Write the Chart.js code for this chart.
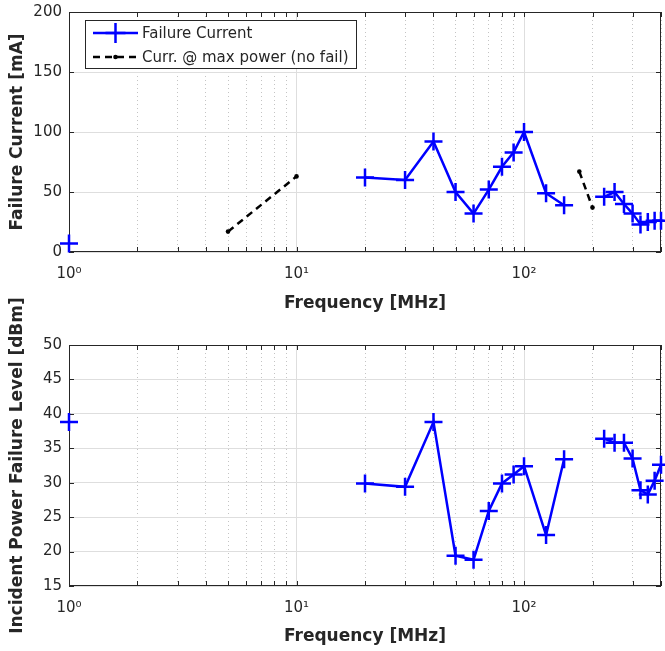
<!DOCTYPE html>
<html><head><meta charset="utf-8">
<script src="https://cdn.jsdelivr.net/npm/chart.js@4.4.0/dist/chart.umd.min.js"></script>
<style>
html,body{margin:0;padding:0;background:#fff;}
#wrap{position:relative;width:665px;height:651px;overflow:hidden;}
#c1wrap{position:absolute;left:0;top:0;width:665px;height:325px;}
#c2wrap{position:absolute;left:0;top:265px;width:665px;height:386px;}
</style></head><body>
<div id="wrap"><div id="c1wrap"><canvas id="c1"></canvas></div><div id="c2wrap"><canvas id="c2"></canvas></div></div>
<script>
// ---- data ----
const freqMHz = [1, 5, 10, 20, 30, 40, 50, 60, 70, 80, 90, 100, 125, 150, 175, 200, 225, 250, 275, 300, 325, 350, 375, 400];
const failureCurrent = [7, null, null, 62, 60, 92, 50, 32, 52, 71, 83, 100, 49, 39, null, null, 46, 50, 40, 32, 23, 25, 26, 26];
const maxPowerCurrent = [null, 17, 63, null, null, null, null, null, null, null, null, null, null, null, 67, 37, null, null, null, null, null, null, null, null];
const failurePower = [38.8, null, null, 29.9, 29.4, 38.8, 19.4, 18.8, 25.9, 29.9, 31.2, 32.4, 22.4, 33.4, null, null, 36.4, 35.8, 35.8, 33.5, 28.9, 28.3, 30.3, 32.6];
const xTickValues = [1, 2, 3, 4, 5, 6, 7, 8, 9, 10, 20, 30, 40, 50, 60, 70, 80, 90, 100, 200, 300, 400];
const xMajorTicks = [1, 10, 100];
const xTickLabels = ['10\u2070', '10\u00B9', '10\u00B2'];
const yTicksCurrent = [0, 50, 100, 150, 200];
const yTicksPower = [15, 20, 25, 30, 35, 40, 45, 50];

const AX = '#262626';
const FONT = "'DejaVu Sans', sans-serif";
Chart.defaults.font.family = FONT;
Chart.defaults.font.size = 15;
Chart.defaults.color = AX;

function pts(arr){ return freqMHz.map((f,i)=>({x:f, y:arr[i]})); }
function isMajor(v){ return xMajorTicks.indexOf(v) >= 0; }

const boxPlugin = {
  id: 'matlabBox',
  beforeDatasetsDraw(chart){
    const {ctx, chartArea:{left,right,top,bottom}, scales:{x,y}} = chart;
    const tl = 5;
    ctx.save();
    ctx.strokeStyle = AX; ctx.lineWidth = 1; ctx.setLineDash([]);
    ctx.beginPath();
    x.ticks.forEach(t=>{
      const px = Math.round(x.getPixelForValue(t.value)) + 0.5;
      ctx.moveTo(px, bottom); ctx.lineTo(px, bottom - tl);
      ctx.moveTo(px, top); ctx.lineTo(px, top + tl);
    });
    y.ticks.forEach(t=>{
      const py = Math.round(y.getPixelForValue(t.value)) + 0.5;
      ctx.moveTo(left, py); ctx.lineTo(left + tl, py);
      ctx.moveTo(right, py); ctx.lineTo(right - tl, py);
    });
    ctx.stroke();
    ctx.strokeRect(Math.round(left)+0.5, Math.round(top)+0.5, Math.round(right-left)-1, Math.round(bottom-top)-1);
    ctx.restore();
  }
};

const legendPlugin = {
  id: 'matlabLegend',
  afterDatasetsDraw(chart, args, opts){
    if (!opts || !opts.show) return;
    const {ctx, chartArea} = chart;
    const bx = chartArea.left + 16, by = chartArea.top + 8;
    ctx.save();
    ctx.font = "15px " + FONT;
    const dsets = chart.data.datasets;
    let maxW = 0;
    dsets.forEach(d=>{ maxW = Math.max(maxW, ctx.measureText(d.label).width); });
    const w = 57 + maxW + 7, h = 48;
    ctx.fillStyle = '#fff';
    ctx.fillRect(bx, by, w, h);
    ctx.strokeStyle = AX; ctx.lineWidth = 1;
    ctx.strokeRect(Math.round(bx)+0.5, Math.round(by)+0.5, Math.round(w), h);
    dsets.forEach((d,i)=>{
      const cy = by + 13 + i*24;
      const x0 = bx + 8, x1 = bx + 53, cx = (x0+x1)/2;
      ctx.strokeStyle = d.borderColor; ctx.lineWidth = d.borderWidth;
      ctx.setLineDash(d.borderDash || []);
      ctx.beginPath(); ctx.moveTo(x0, cy); ctx.lineTo(x1, cy); ctx.stroke();
      ctx.setLineDash([]);
      if (d.pointStyle === 'cross'){
        const r = d.pointRadius + 1;
        ctx.lineWidth = d.pointBorderWidth;
        ctx.beginPath(); ctx.moveTo(cx-r, cy); ctx.lineTo(cx+r, cy); ctx.moveTo(cx, cy-r); ctx.lineTo(cx, cy+r); ctx.stroke();
      } else {
        ctx.fillStyle = d.backgroundColor;
        ctx.beginPath(); ctx.arc(cx, cy, d.pointRadius, 0, Math.PI*2); ctx.fill();
      }
      ctx.fillStyle = AX; ctx.textBaseline = 'middle'; ctx.textAlign = 'left';
      ctx.fillText(d.label, bx + 57, cy + 1);
    });
    ctx.restore();
  }
};

function xScale(titlePadBottom, height){
  return {
    type: 'logarithmic', position: 'bottom', min: 1, max: 400, bounds: 'data',
    afterBuildTicks: s => { s.ticks = xTickValues.map(v => ({value: v, major: false})); },
    afterFit: s => { s.height = height; s.paddingLeft = 0; s.paddingRight = 0; },
    ticks: { autoSkip: false, maxRotation: 0, minRotation: 0, padding: 13, font: {size: 15},
      callback: v => { const k = xMajorTicks.indexOf(v); return k >= 0 ? xTickLabels[k] : ''; } },
    grid: { drawTicks: false, lineWidth: 1,
      color: c => (c.tick && isMajor(c.tick.value)) ? '#dedede' : '#c4c4c4' },
    border: { display: false, dash: c => (c.tick && !isMajor(c.tick.value)) ? [1, 3] : [] },
    title: { display: true, text: 'Frequency [MHz]', font: {size: 17, weight: 'bold'}, padding: {top: 0, bottom: titlePadBottom} }
  };
}
function yScale(min, max, tickVals, title){
  return {
    type: 'linear', min: min, max: max,
    afterBuildTicks: s => { s.ticks = tickVals.map(v => ({value: v})); },
    afterFit: s => { s.width = 69; s.paddingTop = 0; s.paddingBottom = 0; },
    ticks: { padding: 7, font: {size: 15} },
    grid: { drawTicks: false, color: '#dedede', lineWidth: 1 },
    border: { display: false },
    title: { display: true, text: title, font: {size: 17, weight: 'bold'}, padding: {top: 7, bottom: 0} }
  };
}
const blueStyle = { borderColor: '#0000ff', backgroundColor: '#0000ff', borderWidth: 2.5,
  pointStyle: 'cross', pointRadius: 9, pointHoverRadius: 9, pointBorderWidth: 2.5, pointHoverBorderWidth: 2.5,
  spanGaps: false, clip: false, tension: 0, fill: false };

new Chart(document.getElementById('c1'), {
  type: 'line',
  data: { datasets: [
    Object.assign({ label: 'Failure Current', data: pts(failureCurrent) }, blueStyle),
    { label: 'Curr. @ max power (no fail)', data: pts(maxPowerCurrent), borderColor: '#000000', backgroundColor: '#000000',
      borderWidth: 2.5, borderDash: [7, 5], pointStyle: 'circle', pointRadius: 2.3, pointHoverRadius: 2.3, pointBorderWidth: 0,
      spanGaps: false, clip: false, tension: 0, fill: false }
  ]},
  options: {
    animation: false, responsive: true, maintainAspectRatio: false, devicePixelRatio: 1,
    events: [],
    layout: { autoPadding: false, padding: { top: 12, right: 4, left: 0, bottom: 0 } },
    plugins: { legend: { display: false }, tooltip: { enabled: false }, matlabLegend: { show: true } },
    scales: { x: xScale(11, 73), y: yScale(0, 200, yTicksCurrent, 'Failure Current [mA]') }
  },
  plugins: [boxPlugin, legendPlugin]
});

new Chart(document.getElementById('c2'), {
  type: 'line',
  data: { datasets: [
    Object.assign({ label: 'Incident Power Failure Level', data: pts(failurePower) }, blueStyle)
  ]},
  options: {
    animation: false, responsive: true, maintainAspectRatio: false, devicePixelRatio: 1,
    events: [],
    layout: { autoPadding: false, padding: { top: 80, right: 4, left: 0, bottom: 0 } },
    plugins: { legend: { display: false }, tooltip: { enabled: false }, matlabLegend: { show: false } },
    scales: { x: xScale(4, 65), y: yScale(15, 50, yTicksPower, 'Incident Power Failure Level [dBm]') }
  },
  plugins: [boxPlugin, legendPlugin]
});
</script>
</body></html>
